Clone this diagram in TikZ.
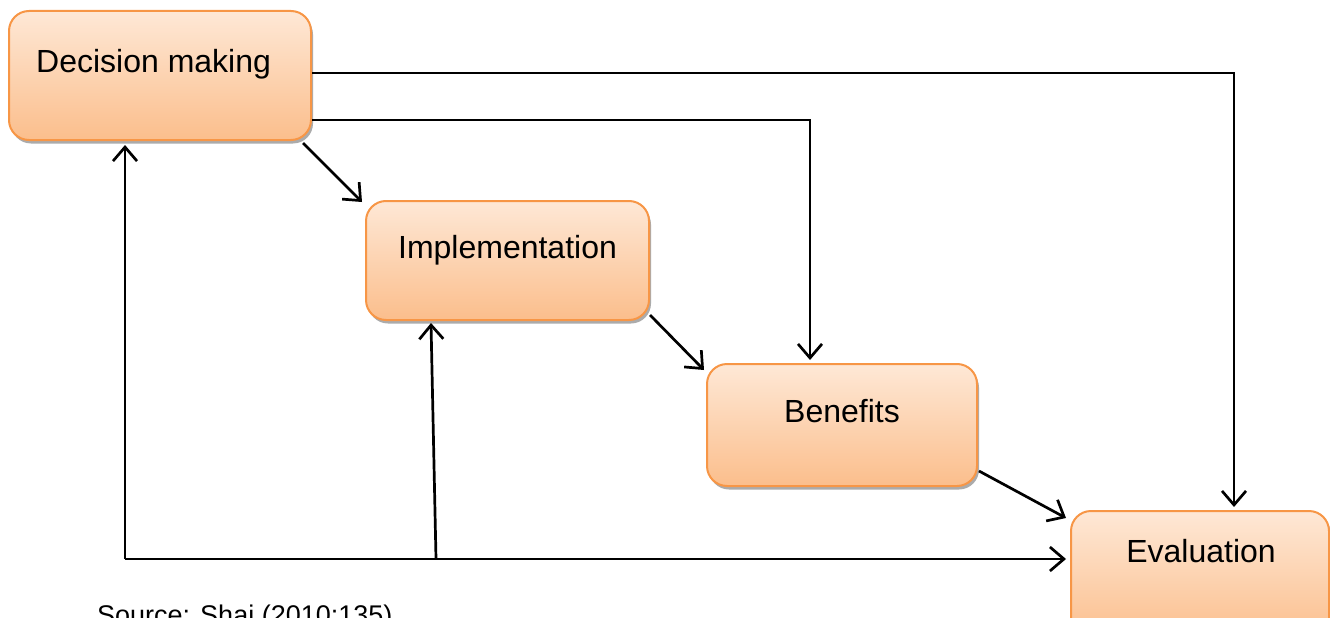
\documentclass[tikz,border=0pt]{standalone}
\usepackage{fontspec}
\setmainfont{Liberation Sans}
\usetikzlibrary{arrows.meta,shadows,calc}
\definecolor{boxtop}{RGB}{254,232,214}
\definecolor{boxbot}{RGB}{251,190,140}
\definecolor{boxline}{RGB}{247,150,70}
\begin{document}
\begin{tikzpicture}[x=1pt,y=-1pt,
  stagebox/.style={rectangle, rounded corners=20pt, draw=boxline, line width=2pt,
    top color=boxtop, bottom color=boxbot, inner sep=0pt,
    drop shadow={shadow xshift=2pt, shadow yshift=-3.5pt, opacity=0.55, fill=black!60}},
  label/.style={font=\fontsize{32}{38}\selectfont, inner sep=0pt, anchor=base},
  arr/.style={draw=black, line width=2.7pt, -{Straight Barb[length=14pt,width=24pt,line width=2.7pt]}},
  link/.style={draw=black, line width=2.7pt}]
\useasboundingbox (0,0) rectangle (1330,618);

% stage boxes (centre, size)
\node[stagebox, minimum width=302pt, minimum height=129pt] (dm) at (160,75.5) {};
\node[stagebox, minimum width=283pt, minimum height=119pt] (im) at (507.5,260.5) {};
\node[stagebox, minimum width=270pt, minimum height=122pt] (be) at (842,425) {};
\node[stagebox, minimum width=258pt, minimum height=130pt] (ev) at (1200,576) {};

% box captions
\node[label, anchor=base west] (dmt) at (36,72) {Decision making};
\node[label] (imt) at (507.5,258) {Implementation};
\node[label] (bet) at (842,422) {Benefits};
\node[label] (evt) at (1201,562) {Evaluation};
\node[font=\fontsize{27}{32}\selectfont, inner sep=0pt, anchor=base west] (src) at (97,624) {Source: Shai (2010:135)};

% routing points
\coordinate (tr) at (1234,73);
\coordinate (mr) at (810,120);
\coordinate (bl) at (125,559);
\coordinate (jn) at (436,559);

% forward flow
\draw[arr] ($(dm.south east)+(-9,2)$) -- ($(im.north west)+(-3,2)$);
\draw[arr] ($(im.south east)+(0,-6)$) -- ($(be.north west)+(-2,7)$);
\draw[arr] ($(be.south east)+(1,-16)$) -- ($(ev.north west)+(-4,8)$);

% direct links from the decision stage
\draw[arr, shorten >=3pt] (dm.east |- tr) -- (tr) -- (ev.north -| tr);
\draw[arr, shorten >=3pt] (dm.east |- mr) -- (mr) -- (be.north -| mr);

% feedback loop along the bottom
\draw[arr, shorten >=4pt] (bl) -- (ev.west |- bl);
\draw[arr, shorten >=4pt] (bl) -- (dm.south -| bl);
\draw[arr] (jn) -- ($(im.south west)+(66,2)$);
\end{tikzpicture}
\end{document}
